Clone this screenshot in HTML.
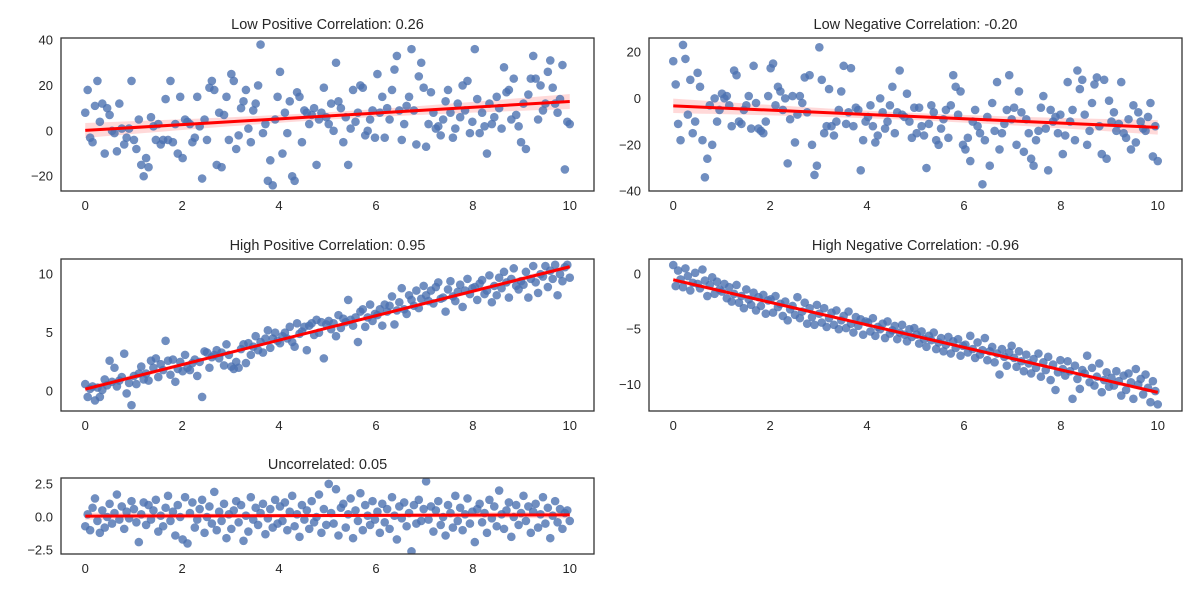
<!DOCTYPE html>
<html><head><meta charset="utf-8"><style>
body{margin:0;background:#fff;}
svg text{font-family:"Liberation Sans",sans-serif;fill:#262626;}
</style></head><body>
<svg id="chart" width="1200" height="600" xmlns="http://www.w3.org/2000/svg"></svg>
<script>
const p1Y=[8,18,-3,-5,11,22,4,12,-10,10,7,0,-1,-9,12,1,-6,-3,1,22,-4,-8,5,-15,-20,-12,-16,6,2,-4,3,-6,-4,14,-4,22,-5,3,-10,15,-12,5,4,3,-5,-3,15,2,-21,5,-4,19,22,18,-15,8,-16,7,15,-4,25,22,-8,-2,10,13,18,1,-5,9,12,20,38,-1,3,-22,-13,-24,5,15,26,-10,8,-1,13,-20,-22,17,15,-5,9,8,3,7,10,-15,5,8,19,6,3,12,0,30,13,10,-5,6,-15,1,18,4,8,20,19,-2,0,5,9,-3,25,8,15,-3,10,5,18,27,33,9,-4,3,11,15,36,9,-6,24,30,19,-7,3,17,8,1,2,-2,5,13,18,8,-3,1,12,6,20,9,22,-1,4,36,14,-1,8,2,-10,12,3,6,15,10,1,28,17,18,5,23,7,2,-5,12,-8,16,23,33,23,5,20,9,12,26,31,19,12,8,14,29,-17,4,3];
const p2Y=[16,6,-11,-18,23,17,-7,8,-15,-10,11,5,-18,-34,-26,-3,-20,0,-10,-5,2,0,1,-3,-12,12,10,-10,-11,-5,-3,1,-13,14,-2,-13,-14,-15,-10,1,13,15,-3,5,3,-5,0,-28,-9,1,-19,-7,1,-2,9,-6,10,-20,-33,-29,22,8,-15,-12,4,-12,-16,-10,-5,3,14,-11,-6,13,-12,-4,-5,-31,-18,-10,-8,-3,-12,-19,-16,0,-6,-13,-10,-3,5,-15,-6,12,-7,-8,2,-10,-17,-4,-15,-4,-12,-16,-30,-11,-3,-6,-18,-20,-13,-9,-5,-17,-3,10,5,-7,3,-20,-22,-17,-27,-10,-5,-12,-15,-37,-18,-8,-29,-2,-14,7,-22,-15,-11,-5,10,-9,-4,-20,3,-6,-23,-9,-15,-26,-29,-18,-14,-4,1,-13,-31,-5,-10,-8,-15,-7,-24,-16,7,-10,-5,-18,12,4,8,-7,-20,-14,-2,6,9,-12,-24,8,-26,-1,-10,-6,-14,-11,7,-15,-17,-9,-22,-3,-19,-6,-10,-13,-14,-8,-2,-25,-12,-27];
const p3Y=[0.6,-0.5,0.2,0.4,-0.8,0.3,-0.5,0.1,1.0,0.5,2.6,0.8,2.0,0.4,0.9,1.2,3.2,-0.2,0.7,-1.2,1.3,0.6,1.5,2.1,1.0,1.5,0.9,2.6,2.0,2.8,1.2,2.3,1.8,4.3,2.6,1.4,2.7,0.8,1.9,2.5,1.7,3.1,2.0,1.8,2.4,2.7,1.3,2.5,-0.5,3.4,3.3,2.0,2.9,3.1,3.5,2.8,3.3,2.2,4.0,3.1,2.1,1.9,2.5,2.0,3.6,4.0,2.4,4.1,3.1,3.8,4.7,3.5,4.2,3.3,4.5,5.2,3.7,4.5,5.0,4.3,4.1,4.7,5.0,4.5,5.5,4.2,3.8,5.8,4.9,5.1,5.5,3.5,5.6,5.8,4.8,6.1,5.0,5.9,2.8,5.7,6.0,5.3,5.8,4.7,6.5,5.4,6.2,5.9,7.8,6.1,5.6,6.3,4.2,6.8,7.0,5.5,6.3,7.4,6.0,6.6,6.5,7.0,5.6,7.4,6.8,7.3,8.1,5.7,6.9,7.6,8.8,7.0,6.6,8.2,7.8,7.3,8.6,7.1,7.9,9.0,8.2,7.7,8.6,7.5,8.9,9.3,7.9,8.0,6.8,8.7,9.4,8.1,7.7,8.5,9.1,7.2,8.6,9.6,8.3,8.8,8.9,7.8,9.2,9.5,8.3,8.6,9.9,7.6,9.0,8.2,9.7,8.8,10.2,9.3,8.0,9.6,10.5,9.0,8.7,9.4,9.1,10.2,8.0,9.6,10.7,9.3,8.4,10.0,9.8,10.7,8.9,10.3,9.6,10.8,8.2,10.0,9.4,10.6,10.8,9.7];
const p4Y=[0.8,-1.1,0.3,-0.5,-1.2,0.5,-0.2,-1.5,-0.8,0.1,-0.9,-1.3,0.4,-0.6,-2.0,-1.0,-0.3,-1.8,-0.7,-1.4,-1.6,-0.9,-2.2,-1.2,-2.5,-1.8,-1.0,-2.6,-2.0,-3.1,-1.4,-2.3,-2.8,-1.7,-3.3,-2.1,-2.9,-1.9,-3.6,-2.4,-2.3,-3.5,-2.0,-3.0,-2.7,-3.8,-2.5,-4.2,-3.2,-2.9,-3.7,-2.1,-4.0,-3.4,-2.6,-4.5,-3.1,-3.9,-4.6,-2.8,-3.6,-4.4,-3.1,-4.8,-4.0,-3.5,-4.6,-3.3,-5.0,-4.2,-3.8,-4.9,-3.4,-4.5,-5.3,-3.9,-4.7,-4.1,-5.5,-4.3,-4.4,-5.2,-4.0,-5.6,-4.8,-5.0,-4.5,-5.8,-4.3,-5.4,-5.1,-4.7,-5.9,-5.3,-4.6,-5.5,-6.1,-5.0,-5.7,-4.9,-5.5,-6.3,-5.2,-5.9,-6.6,-5.6,-6.0,-5.3,-6.8,-6.2,-5.8,-7.0,-6.4,-5.7,-7.2,-6.1,-6.7,-5.9,-7.4,-6.5,-6.4,-7.1,-5.6,-6.8,-7.6,-6.2,-7.3,-6.9,-5.8,-7.8,-7.0,-6.6,-8.0,-7.2,-9.1,-6.8,-7.5,-8.3,-7.1,-6.5,-7.6,-8.4,-7.0,-7.9,-8.8,-7.3,-8.1,-9.0,-7.7,-8.5,-7.2,-9.3,-8.0,-8.7,-7.5,-9.6,-8.2,-10.5,-8.9,-7.8,-8.6,-9.2,-7.9,-8.8,-11.3,-8.3,-9.5,-10.4,-8.7,-9.0,-7.4,-9.8,-8.5,-10.1,-9.3,-8.1,-10.7,-9.6,-8.9,-10.2,-9.4,-10.1,-8.8,-9.7,-11.0,-9.2,-10.5,-9.0,-9.8,-11.3,-8.6,-10.0,-9.5,-10.9,-9.1,-10.3,-11.6,-9.7,-10.6,-11.8];
const p5Y=[-0.7,0.2,-1.0,0.7,1.4,-0.3,-1.2,0.5,-0.8,0.0,1.0,-0.5,0.3,1.7,-0.2,0.8,-0.9,0.4,-0.1,1.2,0.6,-0.4,-1.9,0.2,1.1,-0.6,0.9,-0.2,0.5,1.3,-1.1,0.1,-0.7,0.7,1.6,-0.3,0.4,-1.4,0.9,0.0,-1.7,1.5,-2.0,0.3,1.1,-0.8,-0.2,0.6,1.3,-1.2,0.0,0.8,-0.5,1.9,-1.0,0.4,-0.3,1.0,-1.6,0.2,-0.9,0.5,1.2,-0.4,0.9,-1.8,0.1,-1.1,1.5,-0.2,0.7,-0.6,0.3,1.0,-1.3,-0.1,0.6,-0.8,1.3,-0.5,0.8,-0.3,1.1,-1.0,0.4,1.6,-0.7,0.2,-1.5,0.9,-0.2,0.5,-0.9,1.2,-0.4,0.0,1.7,-1.2,0.6,-0.6,2.5,0.3,-0.5,2.1,-1.4,0.7,1.0,-0.8,0.2,1.4,-1.6,0.5,-0.3,1.8,-1.0,0.9,0.1,-0.6,1.2,-0.2,0.4,-1.2,1.0,-0.4,0.6,-0.9,1.5,0.1,-1.7,0.8,-0.1,1.1,-0.7,0.3,-2.6,0.9,-0.5,1.3,-0.3,0.6,2.7,-0.2,0.8,-1.1,0.5,1.2,-0.6,0.0,-1.4,0.9,0.3,-0.8,1.6,-0.3,0.7,-1.0,0.2,1.4,-0.5,0.4,-1.9,0.6,1.0,-0.4,0.3,-1.2,1.3,-0.1,0.8,-0.7,2.0,0.2,-0.9,0.5,1.1,-1.5,0.0,0.9,-0.6,0.3,1.6,-0.3,0.8,-1.2,0.4,1.0,-0.8,0.2,1.5,-0.5,0.7,-1.6,0.1,1.2,-0.4,0.6,-0.9,0.3,0.5,-0.3];
const titles=["Low Positive Correlation: 0.26","Low Negative Correlation: -0.20","High Positive Correlation: 0.95","High Negative Correlation: -0.96","Uncorrelated: 0.05"];
const xTicks=[0,2,4,6,8,10];
const yTicks1=[-20,0,20,40], yTicks2=[-40,-20,0,20], yTicks3=[0,5,10], yTicks4=[-10,-5,0], yTicks5=[-2.5,0,2.5];
const tickFmt5=["−2.5","0.0","2.5"];

const NS="http://www.w3.org/2000/svg";
const svg=document.getElementById('chart');
function mk(tag,attrs,parent){const e=document.createElementNS(NS,tag);for(const k in attrs)e.setAttribute(k,attrs[k]);(parent||svg).appendChild(e);return e;}

const panels=[
 {ys:p1Y,box:[61,38,594,191],ymin:-26.5,ymax:40.9,yt:yTicks1,slug:'low-positive'},
 {ys:p2Y,box:[649,38,1182,191],ymin:-39.9,ymax:26.0,yt:yTicks2,slug:'low-negative'},
 {ys:p3Y,box:[61,259,594,411],ymin:-1.7,ymax:11.3,yt:yTicks3,slug:'high-positive'},
 {ys:p4Y,box:[649,259,1182,411],ymin:-12.4,ymax:1.35,yt:yTicks4,slug:'high-negative'},
 {ys:p5Y,box:[61,478,594,554],ymin:-2.8,ymax:2.95,yt:yTicks5,slug:'uncorrelated',fmt:tickFmt5}
];

panels.forEach((p,pi)=>{
  const [x0,y0,x1,y1]=p.box;
  const g=mk('g',{});
  
  
  const xs=p.ys.map((_,i)=>i*10/(p.ys.length-1));
  const xl=x0+(x1-x0)*0.0455, xr=x1-(x1-x0)*0.0455;
  const sx=v=>xl+(xr-xl)*v/10;
  const sy=v=>y1-(v-p.ymin)/(p.ymax-p.ymin)*(y1-y0);
  const t=mk('text',{x:(x0+x1)/2,y:y0-9,'text-anchor':'middle','font-size':14.5},g);
  t.textContent=titles[pi];
  
  
  xTicks.forEach(v=>{
    const e=mk('text',{x:sx(v),y:y1+19,'text-anchor':'middle','font-size':13},g);
    e.textContent=v;
    
    
  });
  p.yt.forEach((v,i)=>{
    const e=mk('text',{x:x0-8,y:sy(v)+4.5,'text-anchor':'end','font-size':13},g);
    e.textContent=p.fmt?p.fmt[i]:(v<0?'−'+(-v):v);
    
    
  });
  const n=xs.length, mx=xs.reduce((a,b)=>a+b)/n, my=p.ys.reduce((a,b)=>a+b)/n;
  let sxx=0,sxy=0;for(let i=0;i<n;i++){sxx+=(xs[i]-mx)**2;sxy+=(xs[i]-mx)*(p.ys[i]-my);}
  const b=sxy/sxx,a=my-b*mx;
  let sse=0;for(let i=0;i<n;i++)sse+=(p.ys[i]-a-b*xs[i])**2;
  const s=Math.sqrt(sse/(n-2));
  const clip='clip'+pi;
  const cp=mk('clipPath',{id:clip},g);mk('rect',{x:x0,y:y0,width:x1-x0,height:y1-y0},cp);
  const inner=mk('g',{'clip-path':'url(#'+clip+')'},g);
  const up=[],dn=[];
  for(let k=0;k<=50;k++){const xv=k/5;const se=1.97*s*Math.sqrt(1/n+(xv-mx)**2/sxx);const yv=a+b*xv;up.push(sx(xv)+','+sy(yv+se));dn.unshift(sx(xv)+','+sy(yv-se));}
  const band=mk('polygon',{points:up.concat(dn).join(' '),fill:'#ff0000','fill-opacity':0.15},inner);
  
  
  xs.forEach((xv,i)=>{
    const c=mk('circle',{cx:sx(xv),cy:sy(p.ys[i]),r:4.3,fill:'#4c72b0','fill-opacity':0.8},inner);
    
    
  });
  const ln=mk('line',{x1:sx(0),y1:sy(a),x2:sx(10),y2:sy(a+b*10),stroke:'#ff0000','stroke-width':3},inner);
  
  
  const fr=mk('rect',{x:x0,y:y0,width:x1-x0,height:y1-y0,fill:'none',stroke:'#333','stroke-width':1.3},g);
  
  
});
</script>
</body></html>
